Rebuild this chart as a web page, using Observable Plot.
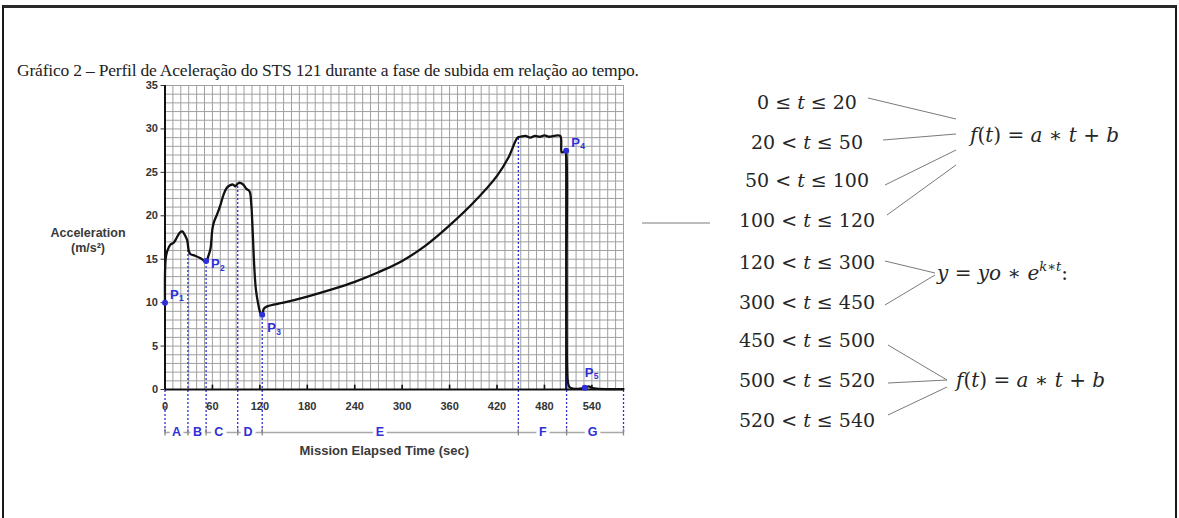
<!DOCTYPE html>
<html>
<head>
<meta charset="utf-8">
<script src="https://cdn.jsdelivr.net/npm/d3@7"></script>
<script src="https://cdn.jsdelivr.net/npm/@observablehq/plot@0.6"></script>
<style>
  html, body { margin: 0; padding: 0; background: #fff; }
  #page { position: relative; width: 1179px; height: 518px; overflow: hidden; background: #fff; }
  #frame { position: absolute; left: 2px; top: 5px; width: 1171px; height: 530px;
           border-left: 2px solid #1a1a1a; border-top: 3px solid #2a2a2a; border-right: 2px solid #1a1a1a; }
  #caption { position: absolute; left: 17px; top: 60px; font-family: "Liberation Serif", "Times New Roman", serif;
             font-size: 17.5px; color: #222; white-space: nowrap; letter-spacing: -0.2px; }
  #chart { position: absolute; left: 0; top: 0; }
  #notes { position: absolute; left: 0; top: 0; }
  #notes text { font-family: "DejaVu Serif", serif; font-size: 19px; fill: #262626; }
  #notes text.formula { font-size: 20px; }
  #notes .it { font-style: italic; }
  #notes line { stroke: #7a7a7a; stroke-width: 1; }
</style>
</head>
<body>
<div id="page">
  <div id="frame"></div>
  <div id="caption">Gráfico 2 – Perfil de Aceleração do STS 121 durante a fase de subida em relação ao tempo.</div>
  <div id="chart"></div>
  <svg id="notes" width="1179" height="518">
    <line x1="642" y1="223" x2="710" y2="223"></line>
    <line x1="868" y1="98" x2="956" y2="119"></line>
    <line x1="883" y1="140" x2="956" y2="134"></line>
    <line x1="885" y1="185" x2="956" y2="150"></line>
    <line x1="887" y1="215" x2="956" y2="165"></line>
    <line x1="885" y1="261" x2="935" y2="273"></line>
    <line x1="885" y1="305" x2="935" y2="275"></line>
    <line x1="888" y1="345" x2="947" y2="380"></line>
    <line x1="888" y1="383" x2="947" y2="380"></line>
    <line x1="888" y1="415" x2="947" y2="387"></line>
    <g text-anchor="middle">
      <text x="807" y="109">0 ≤ <tspan class="it">t</tspan> ≤ 20</text>
      <text x="807" y="149">20 &lt; <tspan class="it">t</tspan> ≤ 50</text>
      <text x="807" y="187">50 &lt; <tspan class="it">t</tspan> ≤ 100</text>
      <text x="807" y="227">100 &lt; <tspan class="it">t</tspan> ≤ 120</text>
      <text x="807" y="269">120 &lt; <tspan class="it">t</tspan> ≤ 300</text>
      <text x="807" y="309">300 &lt; <tspan class="it">t</tspan> ≤ 450</text>
      <text x="807" y="347">450 &lt; <tspan class="it">t</tspan> ≤ 500</text>
      <text x="807" y="387">500 &lt; <tspan class="it">t</tspan> ≤ 520</text>
      <text x="807" y="427">520 &lt; <tspan class="it">t</tspan> ≤ 540</text>
    </g>
    <text class="formula" x="970" y="142"><tspan class="it">f</tspan>(<tspan class="it">t</tspan>) = <tspan class="it">a</tspan> ∗ <tspan class="it">t</tspan> + <tspan class="it">b</tspan></text>
    <text class="formula" x="937" y="280"><tspan class="it">y</tspan> = <tspan class="it">yo</tspan> ∗ <tspan class="it">e</tspan><tspan class="it" font-size="13" dy="-9">k∗t</tspan><tspan dy="9">:</tspan></text>
    <text class="formula" x="956" y="387"><tspan class="it">f</tspan>(<tspan class="it">t</tspan>) = <tspan class="it">a</tspan> ∗ <tspan class="it">t</tspan> + <tspan class="it">b</tspan></text>
  </svg>
</div>
<script>
// ---- data ----
const timeSec = [0, 0.8, 3, 7, 11, 15, 19, 22, 25, 28, 30, 32, 38, 45, 50, 52, 55, 57.5, 60, 62, 66, 70, 74, 78, 82, 86, 89, 92, 95, 99, 103, 107, 109, 111, 113, 115, 118, 121, 123, 125, 130, 150, 180, 210, 240, 270, 300, 330, 360, 390, 420, 435, 446, 450, 456, 462, 468, 474, 480, 486, 492, 500, 502, 506, 507.5, 508, 508.5, 509.5, 511.5, 516, 525, 531, 536, 540, 546, 560, 580];
const accel   = [10, 15, 16.0, 16.7, 16.9, 17.5, 18.1, 18.2, 17.8, 17.2, 16.0, 15.6, 15.4, 15.1, 14.8, 14.7, 15.4, 16.2, 18.5, 19.3, 20.2, 21.2, 22.4, 23.2, 23.5, 23.6, 23.4, 23.7, 23.8, 23.6, 23.1, 22.8, 21.5, 18, 14, 11.5, 9.8, 8.7, 8.5, 9.3, 9.6, 10.0, 10.7, 11.5, 12.4, 13.5, 14.8, 16.6, 18.9, 21.5, 24.6, 26.8, 29.0, 29.1, 29.2, 29.0, 29.2, 29.1, 29.25, 29.1, 29.2, 29.2, 27.3, 27.4, 27.0, 14, 3, 1.0, 0.3, 0.1, 0.1, 0.2, 0.35, 0.2, 0.1, 0.05, 0.05];

const xTicks = [0, 60, 120, 180, 240, 300, 360, 420, 480, 540];
const yTicks = [0, 5, 10, 15, 20, 25, 30, 35];
const gridT = d3.range(0, 581, 10);
const gridA = d3.range(0, 36, 1);

const phaseBounds = [0, 29, 52, 92, 123, 447, 508, 580];
const boundTops   = [0, 16.6, 14.7, 23.5, 8.8, 29.0, 0, 0];
const phaseNames  = ["A", "B", "C", "D", "E", "F", "G"];
const phaseLabelT = [14.5, 41, 68, 105, 272, 478, 541];
const phaseLevel  = -4.95;

const pointNames = ["1", "2", "3", "4", "5"];
const pointT     = [0, 52, 123, 507.5, 531];
const pointA     = [10, 14.8, 8.6, 27.5, 0.2];

// ---- build ----
const curve = timeSec.map((t, i) => ({t, a: accel[i]}));
const bounds = phaseBounds.map((t, i) => ({t, top: boundTops[i]}));
const phases = phaseNames.map((n, i) => ({n, t: phaseLabelT[i]}));
const points = pointNames.map((n, i) => ({n, t: pointT[i], a: pointA[i]}));

const blue = "#2f2fd8";
const labelOffsets = [[5, -8], [5, 3], [5, 13], [5, -8], [0, -15]];

const chart = Plot.plot({
  width: 660,
  height: 470,
  marginLeft: 164.5,
  marginRight: 37,
  marginTop: 85,
  marginBottom: 81,
  x: {domain: [0, 580]},
  y: {domain: [0, 35]},
  style: {background: "transparent", fontFamily: "'Liberation Sans', Arial, sans-serif", overflow: "visible"},
  marks: [
    Plot.ruleX(gridT, {x: d => d, y1: 0, y2: 35, stroke: "#a0a0a0", strokeWidth: 1}),
    Plot.ruleY(gridA, {y: d => d, x1: 0, x2: 580, stroke: "#a0a0a0", strokeWidth: 1}),
    Plot.ruleX(bounds, {x: "t", y1: phaseLevel, y2: "top", stroke: blue, strokeWidth: 1.3, strokeDasharray: "2,2"}),
    Plot.ruleY([phaseLevel], {x1: 0, x2: 580, stroke: "#a8a8a8", strokeWidth: 1.6}),
    Plot.ruleX(bounds, {x: "t", y1: phaseLevel - 0.4, y2: phaseLevel + 0.4, stroke: "#888", strokeWidth: 1.3}),
    Plot.text(phases, {x: "t", y: phaseLevel, text: "n", fill: blue, stroke: "white", strokeWidth: 7, paintOrder: "stroke", fontWeight: "bold", fontSize: 12.5}),
    Plot.ruleX([pointT[0]], {y1: 0, y2: pointA[0], stroke: "#2424c8", strokeWidth: 2}),
    Plot.ruleX([pointT[3]], {y1: 0, y2: pointA[3], stroke: "#1c1c7a", strokeWidth: 2.4}),
    Plot.line(curve, {x: "t", y: "a", stroke: "#111", strokeWidth: 2.3, curve: "catmull-rom"}),
    Plot.ruleY([0], {x1: 0, x2: 580, stroke: "#111", strokeWidth: 2}),
    Plot.ruleX([0], {y1: 0, y2: 35, stroke: "#111", strokeWidth: 2}),
    Plot.ruleX(xTicks, {x: d => d, y1: 0, y2: 0.5, stroke: "#111", strokeWidth: 1.6}),
    Plot.axisY({ticks: yTicks, tickSize: 4, tickPadding: 3, fontWeight: "bold", fontSize: 11, color: "#333", label: null}),
    Plot.axisX({ticks: xTicks, tickSize: 0, tickPadding: 13, fontWeight: "bold", fontSize: 11, color: "#333", label: null}),
    Plot.dot(points, {x: "t", y: "a", r: 3, fill: blue}),
    ...points.map((p, i) => Plot.text([p], {x: "t", y: "a", text: () => "P", dx: labelOffsets[i][0], dy: labelOffsets[i][1], textAnchor: "start", fill: blue, fontWeight: "bold", fontSize: 13})),
    ...points.map((p, i) => Plot.text([p], {x: "t", y: "a", text: "n", dx: labelOffsets[i][0] + 9, dy: labelOffsets[i][1] + 4, textAnchor: "start", fill: blue, fontWeight: "bold", fontSize: 8.5})),
    Plot.text(["Acceleration\n(m/s²)"], {frameAnchor: "left", textAnchor: "middle", dx: -77, dy: 2, lineHeight: 1.25, fontWeight: "bold", fontSize: 12.5, fill: "#3a3a3a"}),
    Plot.text(["Mission Elapsed Time (sec)"], {frameAnchor: "bottom", dx: -10, dy: 65, fontWeight: "bold", fontSize: 13, fill: "#3a3a3a"})
  ]
});
document.getElementById("chart").appendChild(chart);
</script>
</body>
</html>
